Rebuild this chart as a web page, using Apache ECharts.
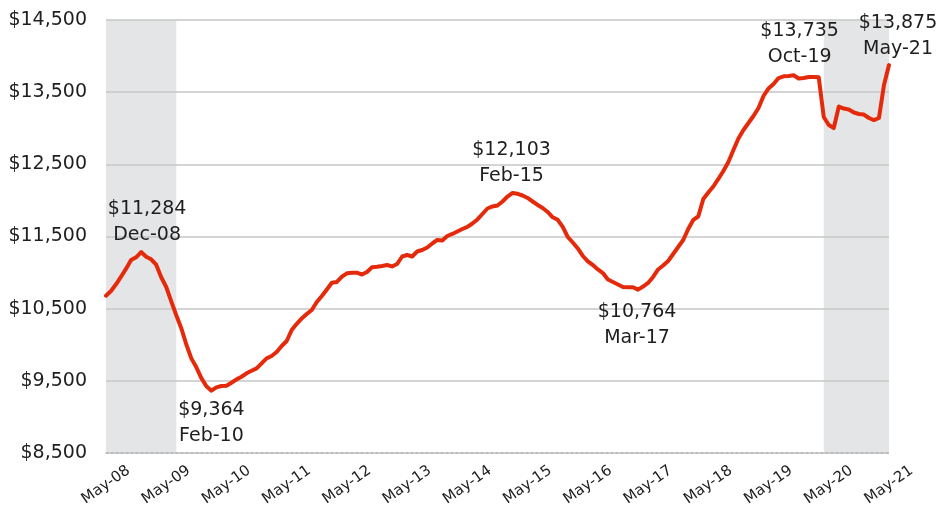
<!DOCTYPE html>
<html>
<head>
<meta charset="utf-8">
<script src="https://cdn.jsdelivr.net/npm/echarts@6/dist/echarts.min.js"></script>
<style>
  html, body { margin: 0; padding: 0; background: #fff; }
  #chart { width: 937px; height: 512px; }
</style>
</head>
<body>
<div id="chart"></div>
<script>
// months May-08 .. May-21
var monthNames = ['Jan', 'Feb', 'Mar', 'Apr', 'May', 'Jun', 'Jul', 'Aug', 'Sep', 'Oct', 'Nov', 'Dec'];
var years = ['08', '09', '10', '11', '12', '13', '14', '15', '16', '17', '18', '19', '20', '21'];

var categories = [];
years.forEach(function (yy, yi) {
    monthNames.forEach(function (m, mi) {
        if (yi === 0 && mi < 4) return;
        if (yi === years.length - 1 && mi > 4) return;
        categories.push(m + '-' + yy);
    });
});

// monthly values
var values = [
    10680, 10745, 10838, 10943, 11054, 11175, 11212, 11284, 11220, 11184, 11110, 10935,
    10800, 10600, 10408, 10230, 10003, 9811, 9687, 9537, 9425, 9364, 9410, 9428,
    9433, 9474, 9520, 9557, 9604, 9640, 9673, 9743, 9812, 9844, 9900, 9983,
    10052, 10204, 10290, 10364, 10426, 10482, 10593, 10676, 10766, 10860, 10870, 10943,
    10990, 10998, 10998, 10973, 11008, 11073, 11080, 11091, 11105, 11085, 11119, 11223,
    11244, 11223, 11292, 11313, 11348, 11403, 11452, 11445, 11507, 11535, 11569, 11604,
    11632, 11680, 11736, 11812, 11888, 11916, 11930, 11985, 12054, 12103, 12092, 12068,
    12034, 11985, 11937, 11895, 11840, 11766, 11731, 11632, 11493, 11417, 11334, 11230,
    11154, 11105, 11043, 10994, 10904, 10870, 10835, 10800, 10796, 10796, 10764, 10807,
    10856, 10939, 11043, 11098, 11161, 11258, 11355, 11452, 11604, 11729, 11777, 12020,
    12110, 12193, 12297, 12408, 12532, 12699, 12858, 12976, 13073, 13170, 13281, 13447,
    13551, 13613, 13696, 13720, 13724, 13735, 13689, 13696, 13710, 13710, 13706, 13156,
    13045, 13003, 13301, 13273, 13260, 13218, 13197, 13190, 13142, 13114, 13142, 13599,
    13875
];

var yTicks = [8500, 9500, 10500, 11500, 12500, 13500, 14500];

// recession shading (start, end month)
var recessions = [['May-08', 'Jul-09'], ['Apr-20', 'May-21']];

// annotated turning points
var callouts = ['Dec-08', 'Feb-10', 'Feb-15', 'Mar-17', 'Oct-19', 'May-21'];

var textColor = '#1e1e1e';
var fontFamily = '"DejaVu Sans", sans-serif';

// where each callout sits relative to its point
var calloutStyle = {
    'Dec-08': { position: 'top', distance: 4, offset: [6, 0] },
    'Feb-10': { position: 'bottom', distance: 6, offset: [0, 0] },
    'Feb-15': { position: 'top', distance: 4, offset: [-1, 0] },
    'Mar-17': { position: 'bottom', distance: 9, offset: [-1, 0] },
    'Oct-19': { position: 'top', distance: 5, offset: [6, 0] },
    'May-21': { position: 'top', distance: 3, offset: [9, 0] }
};

function money(v) {
    return '$' + v.toLocaleString('en-US');
}

var chart = echarts.init(document.getElementById('chart'), null, { renderer: 'canvas' });

chart.setOption({
    animation: false,
    backgroundColor: '#fff',
    textStyle: { fontFamily: fontFamily },
    grid: { left: 106, right: 48, top: 20, bottom: 59 },
    xAxis: {
        type: 'category',
        data: categories,
        boundaryGap: false,
        z: 2,
        axisLine: { show: true, lineStyle: { color: '#b4b4b4', width: 1.5, type: [2, 3] } },
        axisTick: { show: false },
        axisLabel: {
            interval: 11,
            rotate: 35,
            align: 'center',
            verticalAlign: 'middle',
            margin: 32,
            fontSize: 15,
            color: textColor,
            fontFamily: fontFamily
        },
        splitLine: { show: false }
    },
    yAxis: {
        type: 'value',
        min: 8500,
        max: 14500,
        interval: 500,
        z: 2,
        axisLine: { show: false },
        axisTick: { show: false },
        axisLabel: {
            margin: 19,
            fontSize: 19,
            color: textColor,
            fontFamily: fontFamily,
            formatter: function (v) {
                return yTicks.indexOf(v) >= 0 ? money(v) : '';
            }
        },
        splitLine: {
            show: true,
            lineStyle: { color: ['#c6c6c6', 'rgba(0,0,0,0)'], width: 1.5 }
        }
    },
    series: [{
        type: 'line',
        data: values,
        symbol: 'none',
        smooth: false,
        lineStyle: { color: '#E52A0B', width: 4, join: 'round', cap: 'round' },
        z: 3,
        markArea: {
            silent: true,
            z: 1,
            itemStyle: { color: '#e4e5e7' },
            data: recessions.map(function (r) {
                return [{ xAxis: r[0] }, { xAxis: r[1] }];
            })
        },
        markPoint: {
            silent: true,
            symbol: 'circle',
            symbolSize: 0,
            data: callouts.map(function (c) {
                var s = calloutStyle[c];
                return {
                    coord: [c, values[categories.indexOf(c)]],
                    value: values[categories.indexOf(c)],
                    label: {
                        show: true,
                        position: s.position,
                        distance: s.distance,
                        offset: s.offset,
                        formatter: function () {
                            return money(values[categories.indexOf(c)]) + '\n' + c;
                        },
                        fontSize: 19,
                        lineHeight: 26,
                        align: 'center',
                        color: textColor,
                        fontFamily: fontFamily
                    }
                };
            })
        }
    }]
});
</script>
</body>
</html>
